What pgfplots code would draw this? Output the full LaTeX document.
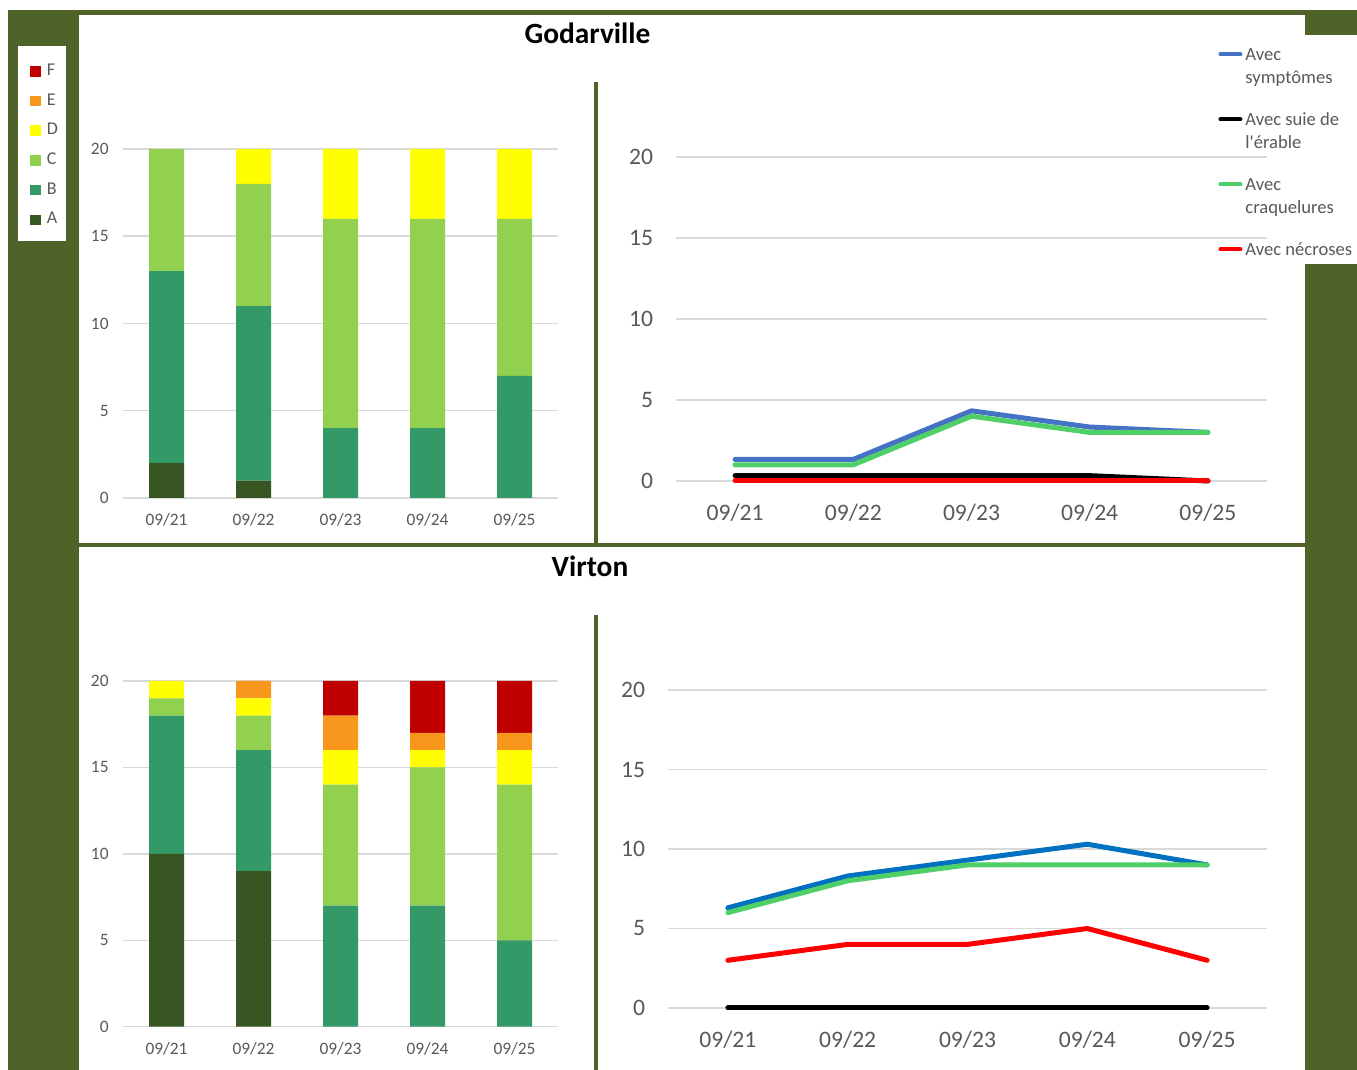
\documentclass[border=0pt]{standalone}
\usepackage{pgfplots}
\pgfplotsset{compat=1.18}
\usepackage{fontspec}
\setmainfont{Carlito}
\definecolor{olive}{HTML}{4F6228}
\definecolor{txt}{HTML}{595959}
\definecolor{grd}{HTML}{D9D9D9}
\definecolor{cA}{HTML}{375623}
\definecolor{cB}{HTML}{339966}
\definecolor{cC}{HTML}{92D050}
\definecolor{cD}{HTML}{FFFF00}
\definecolor{cE}{HTML}{F7981D}
\definecolor{cF}{HTML}{C00000}
\definecolor{lblue}{HTML}{4472C4}
\definecolor{dblue}{HTML}{0070C0}
\definecolor{lgreen}{HTML}{4ECF68}
\definecolor{lred}{HTML}{FF0000}
\pgfplotsset{
  base/.style={
    scale only axis, clip=false,
    xmin=-0.5, xmax=4.5, ymin=0, ymax=20,
    xtick={0,...,4}, xticklabels={09/21,09/22,09/23,09/24,09/25},
    ytick={0,5,10,15,20},
    axis line style={draw=none}, major tick length=0pt,
    ymajorgrids, grid style={grd, line width=0.75pt},
    tick label style={text=txt},
    /pgf/number format/assume math mode=true,
  },
  barax/.style={base, width=217.5pt, ybar stacked, bar width=17.5pt,
    tick label style={font=\fontsize{8.7}{10}\selectfont},
    yticklabel style={anchor=east, inner sep=0pt, xshift=-7pt},
    xticklabel style={anchor=base, inner sep=0pt, yshift=-14pt},
  },
  lineax/.style={base,
    tick label style={font=\fontsize{11.8}{14}\selectfont},
    yticklabel style={anchor=east, inner sep=0pt, xshift=-11.3pt},
    xticklabel style={anchor=base, inner sep=0pt, yshift=-19.8pt},
  },
  sq/.style={draw=none, fill=#1, legend image code/.code={\fill[#1] (0pt,-0.6pt) rectangle (5.3pt,4.7pt);}},
  ln/.style={color=#1, line width=2.5pt, line cap=round, line join=round, mark=none,
    legend image code/.code={\draw[#1, line width=2pt] (0pt,2.9pt) -- (10pt,2.9pt);}},
}
\begin{document}
\begin{tikzpicture}
% background frame
\fill[white] (0pt,0pt) rectangle (678.5pt,535pt);
\fill[olive] (4pt,0pt) rectangle (678.5pt,530pt);
\fill[white] (39.5pt,0pt) rectangle (652.5pt,527.5pt);
\fill[white] (652.5pt,403pt) rectangle (678.5pt,517.5pt);
\fill[white] (9pt,414.5pt) rectangle (33pt,512pt);
\fill[olive] (39.5pt,261.35pt) rectangle (652.5pt,263.35pt);
\fill[olive] (297pt,262pt) rectangle (299pt,494pt);
\fill[olive] (297pt,0pt) rectangle (299pt,227.5pt);
\node[anchor=base, font=\fontsize{14.7}{17}\selectfont\bfseries] at (293.75pt,513pt) {Godarville};
\node[anchor=base, font=\fontsize{14.7}{17}\selectfont\bfseries] at (295pt,246.5pt) {Virton};

% Godarville bars
\begin{axis}[barax, at={(61.5pt,286pt)}, anchor=south west, height=174.5pt,
  reverse legend,
  legend style={at={(-0.2138,1.2445)}, anchor=north west, draw=none, fill=none,
    inner sep=0pt, row sep=8.55pt, column sep=3pt, font=\fontsize{9}{10}\selectfont,
    cells={anchor=base west},
    nodes={inner sep=0pt, text height=5.7pt, text depth=0pt, text=txt}},
]
\addplot[sq=cA] coordinates {(0,2) (1,1) (2,0) (3,0) (4,0)};
\addlegendentry{A}
\addplot[sq=cB] coordinates {(0,11) (1,10) (2,4) (3,4) (4,7)};
\addlegendentry{B}
\addplot[sq=cC] coordinates {(0,7) (1,7) (2,12) (3,12) (4,9)};
\addlegendentry{C}
\addplot[sq=cD] coordinates {(0,0) (1,2) (2,4) (3,4) (4,4)};
\addlegendentry{D}
\addplot[sq=cE] coordinates {(0,0) (1,0) (2,0) (3,0) (4,0)};
\addlegendentry{E}
\addplot[sq=cF] coordinates {(0,0) (1,0) (2,0) (3,0) (4,0)};
\addlegendentry{F}
\end{axis}

% Godarville lines
\begin{axis}[lineax, at={(338pt,294.5pt)}, anchor=south west, width=295.5pt, height=162pt,
  legend style={at={(0.9172,1.3401)}, anchor=north west, draw=none, fill=none,
    inner sep=0pt, row sep=1pt, column sep=1.5pt, font=\fontsize{9.3}{11.5}\selectfont,
    cells={anchor=base west},
    nodes={inner sep=0pt, text height=6.5pt, text depth=25pt, text=txt}},
]
\addplot[ln=lblue] coordinates {(0,1.33) (1,1.33) (2,4.33) (3,3.33) (4,3)};
\addlegendentry{\begin{tabular}[t]{@{}l@{}}Avec\\symptômes\end{tabular}}
\addplot[ln=black] coordinates {(0,0.33) (1,0.33) (2,0.33) (3,0.33) (4,0)};
\addlegendentry{\begin{tabular}[t]{@{}l@{}}Avec suie de\\l\textquotesingle érable\end{tabular}}
\addplot[ln=lgreen] coordinates {(0,1) (1,1) (2,4) (3,3) (4,3)};
\addlegendentry{\begin{tabular}[t]{@{}l@{}}Avec\\craquelures\end{tabular}}
\addplot[ln=lred] coordinates {(0,0) (1,0) (2,0) (3,0) (4,0)};
\addlegendentry{\begin{tabular}[t]{@{}l@{}}Avec nécroses\end{tabular}}
\end{axis}

% Virton bars
\begin{axis}[barax, at={(61.5pt,21.65pt)}, anchor=south west, height=172.85pt]
\addplot[sq=cA] coordinates {(0,10) (1,9) (2,0) (3,0) (4,0)};
\addplot[sq=cB] coordinates {(0,8) (1,7) (2,7) (3,7) (4,5)};
\addplot[sq=cC] coordinates {(0,1) (1,2) (2,7) (3,8) (4,9)};
\addplot[sq=cD] coordinates {(0,1) (1,1) (2,2) (3,1) (4,2)};
\addplot[sq=cE] coordinates {(0,0) (1,1) (2,2) (3,1) (4,1)};
\addplot[sq=cF] coordinates {(0,0) (1,0) (2,2) (3,3) (4,3)};
\end{axis}

% Virton lines
\begin{axis}[lineax, at={(334pt,31pt)}, anchor=south west, width=299.5pt, height=159pt]
\addplot[ln=dblue] coordinates {(0,6.3) (1,8.3) (2,9.3) (3,10.3) (4,9)};
\addplot[ln=black] coordinates {(0,0) (1,0) (2,0) (3,0) (4,0)};
\addplot[ln=lgreen] coordinates {(0,6) (1,8) (2,9) (3,9) (4,9)};
\addplot[ln=lred] coordinates {(0,3) (1,4) (2,4) (3,5) (4,3)};
\end{axis}
\pgfresetboundingbox
\useasboundingbox (0pt,0pt) rectangle (678.5pt,535pt);
\end{tikzpicture}
\end{document}
